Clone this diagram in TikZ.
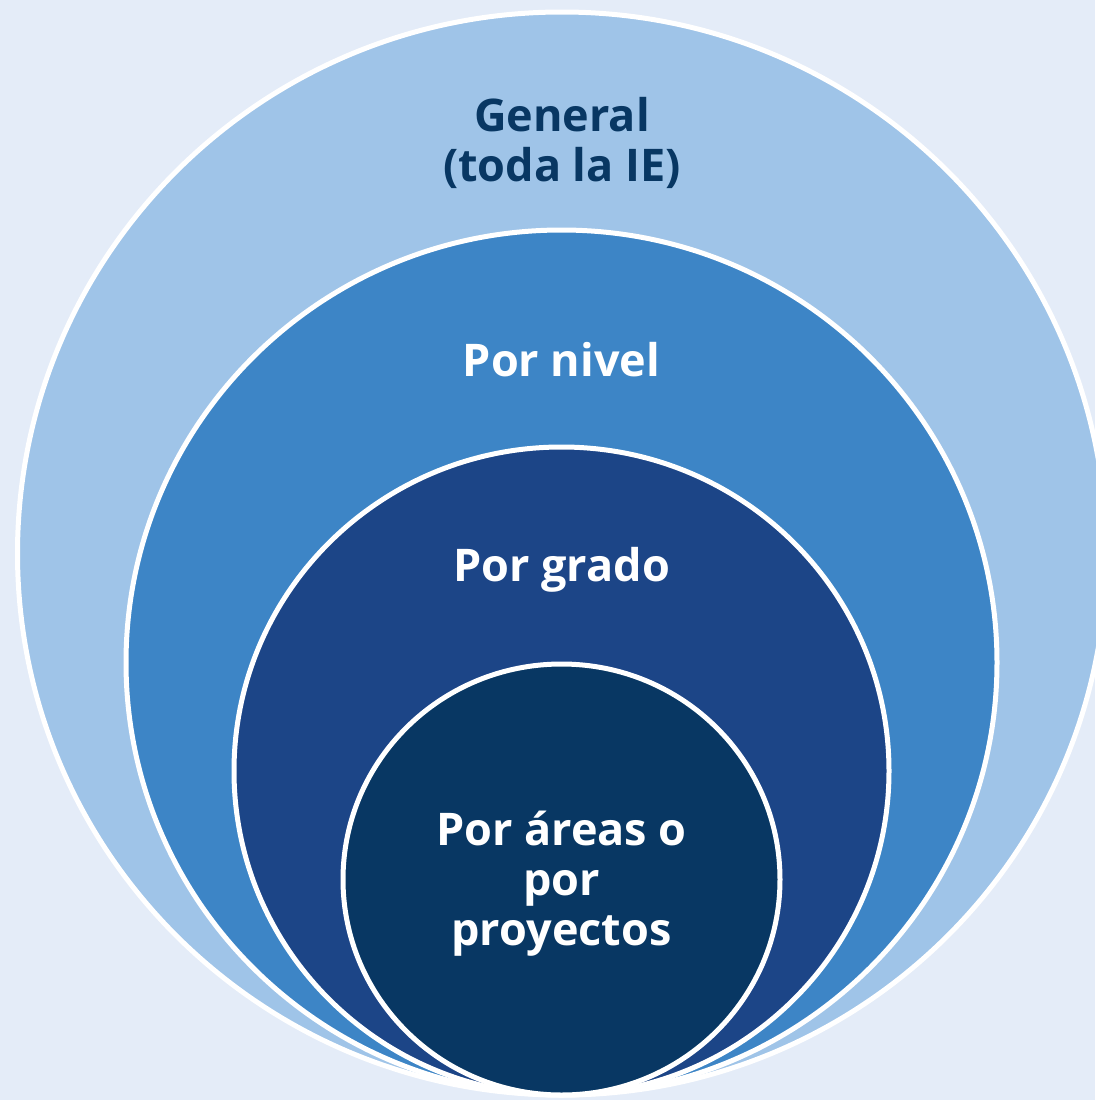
\documentclass[tikz,border=0pt]{standalone}
\usepackage{fontspec}
\setmainfont{Open Sans}
\usepackage{xcolor}
\usepackage{tikz}
\definecolor{fondo}{HTML}{E4ECF8}
\definecolor{general}{HTML}{9FC4E8}
\definecolor{nivel}{HTML}{3D85C6}
\definecolor{grado}{HTML}{1C4587}
\definecolor{areas}{HTML}{083763}
\tikzset{ring/.style={draw=white, line width=5pt},
         label/.style={font=\fontsize{45}{50}\selectfont\bfseries, align=center}}
\begin{document}
\begin{tikzpicture}[x=1pt, y=-1pt]
\fill[fondo] (0,0) rectangle (1095,1100);
\useasboundingbox (0,0) rectangle (1095,1100);
\filldraw[ring, fill=general] (562,553.5) ellipse [x radius=544.5, y radius=541.5];%
\filldraw[ring, fill=nivel] (561.5,662.5) ellipse [x radius=435.5, y radius=432.5];%
\filldraw[ring, fill=grado] (561.5,771) ellipse [x radius=327.5, y radius=324];%
\filldraw[ring, fill=areas] (561.5,879.5) ellipse [x radius=218.5, y radius=215.5];%
\node[label, text=areas] (general) at (562,143) {General\\(toda la IE)};%
\node[label, text=white] (nivel) at (561.5,360) {Por nivel};%
\node[label, text=white] (grado) at (561.5,570) {Por grado};%
\node[label, text=white] (areas) at (561.5,884) {Por áreas o\\por\\proyectos};%
\end{tikzpicture}
\end{document}
